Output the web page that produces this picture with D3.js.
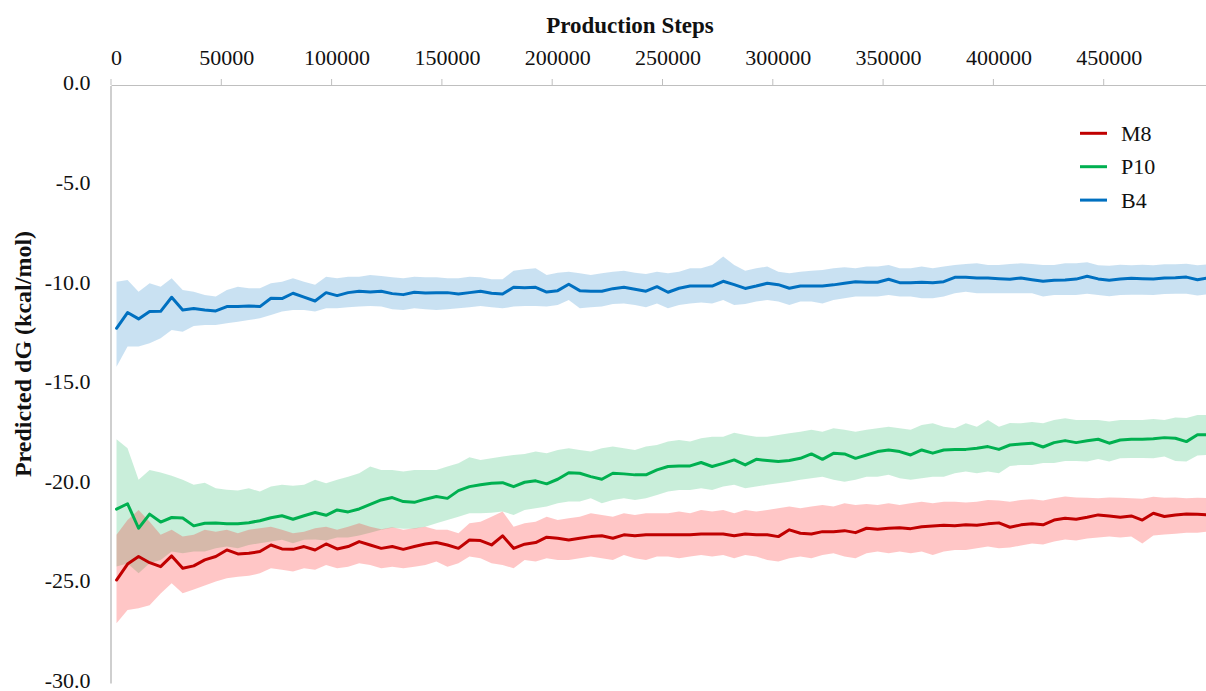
<!DOCTYPE html>
<html><head><meta charset="utf-8">
<script src="https://cdn.jsdelivr.net/npm/d3@7"></script>
<style>
html,body{margin:0;padding:0;background:#fff;}
svg{display:block;}
text{font-family:"Liberation Serif","Times New Roman",serif;}
</style></head><body>
<svg id="chart" width="1206" height="691"></svg>
<script>
// Category axis: production steps (every 5000)
const steps = [0,5000,10000,15000,20000,25000,30000,35000,40000,45000,
50000,55000,60000,65000,70000,75000,80000,85000,90000,95000,
100000,105000,110000,115000,120000,125000,130000,135000,140000,145000,
150000,155000,160000,165000,170000,175000,180000,185000,190000,195000,
200000,205000,210000,215000,220000,225000,230000,235000,240000,245000,
250000,255000,260000,265000,270000,275000,280000,285000,290000,295000,
300000,305000,310000,315000,320000,325000,330000,335000,340000,345000,
350000,355000,360000,365000,370000,375000,380000,385000,390000,395000,
400000,405000,410000,415000,420000,425000,430000,435000,440000,445000,
450000,455000,460000,465000,470000,475000,480000,485000,490000,495000];
const xTickLabels = [0,50000,100000,150000,200000,250000,300000,350000,400000,450000];
const yTickValues = [0,-5,-10,-15,-20,-25,-30];
const seriesNames = ["M8","P10","B4"];

const b4Mean = [-12.19,-11.40,-11.72,-11.35,-11.34,-10.63,-11.27,-11.20,-11.27,-11.32,
-11.10,-11.09,-11.07,-11.10,-10.68,-10.70,-10.43,-10.63,-10.82,-10.40,
-10.55,-10.40,-10.33,-10.37,-10.33,-10.45,-10.50,-10.38,-10.42,-10.40,
-10.40,-10.47,-10.40,-10.33,-10.43,-10.47,-10.13,-10.15,-10.13,-10.37,
-10.30,-9.98,-10.30,-10.33,-10.33,-10.20,-10.13,-10.23,-10.33,-10.10,
-10.38,-10.18,-10.07,-10.07,-10.07,-9.83,-10.00,-10.19,-10.07,-9.93,
-10.00,-10.18,-10.07,-10.07,-10.07,-10.01,-9.93,-9.85,-9.88,-9.88,
-9.73,-9.90,-9.90,-9.88,-9.90,-9.85,-9.63,-9.63,-9.66,-9.66,
-9.70,-9.73,-9.66,-9.75,-9.83,-9.78,-9.76,-9.72,-9.58,-9.71,
-9.78,-9.71,-9.68,-9.70,-9.71,-9.66,-9.65,-9.62,-9.75,-9.66];
const b4Upper = [-9.85,-9.76,-10.35,-9.93,-10.10,-9.68,-10.27,-10.35,-10.52,-10.60,
-10.27,-10.10,-10.18,-10.18,-9.93,-9.85,-9.68,-9.85,-10.01,-9.60,
-9.68,-9.60,-9.60,-9.51,-9.56,-9.63,-9.68,-9.60,-9.63,-9.63,
-9.68,-9.68,-9.60,-9.63,-9.73,-9.73,-9.30,-9.23,-9.18,-9.51,
-9.40,-9.35,-9.43,-9.51,-9.43,-9.35,-9.30,-9.40,-9.46,-9.35,
-9.43,-9.35,-9.18,-9.18,-9.01,-8.59,-9.01,-9.30,-9.18,-9.09,
-9.35,-9.43,-9.35,-9.30,-9.26,-9.18,-9.13,-9.18,-9.09,-9.09,
-9.01,-9.18,-9.18,-9.09,-9.18,-9.09,-9.01,-8.96,-8.93,-9.01,
-9.01,-8.96,-8.93,-8.96,-9.01,-9.01,-8.93,-8.93,-8.88,-9.02,
-9.05,-9.00,-9.02,-9.00,-9.03,-8.98,-8.97,-8.95,-9.02,-8.98];
const b4Lower = [-14.12,-13.11,-13.11,-12.94,-12.69,-12.27,-12.36,-12.07,-12.02,-12.02,
-11.94,-11.86,-11.77,-11.69,-11.52,-11.35,-11.27,-11.27,-11.35,-11.19,
-11.19,-11.14,-11.10,-11.07,-11.10,-11.24,-11.27,-11.19,-11.24,-11.27,
-11.24,-11.19,-11.14,-11.07,-11.14,-11.19,-11.10,-11.07,-11.07,-11.10,
-11.02,-10.77,-11.19,-11.14,-11.10,-10.97,-10.94,-11.02,-11.14,-10.94,
-11.19,-11.02,-10.94,-10.90,-10.94,-10.77,-11.02,-10.97,-10.85,-10.77,
-10.85,-11.02,-10.85,-10.85,-10.94,-10.77,-10.68,-10.60,-10.60,-10.60,
-10.52,-10.60,-10.60,-10.68,-10.68,-10.60,-10.43,-10.35,-10.43,-10.43,
-10.43,-10.43,-10.43,-10.43,-10.60,-10.52,-10.52,-10.52,-10.45,-10.52,
-10.58,-10.52,-10.50,-10.50,-10.52,-10.47,-10.46,-10.45,-10.55,-10.48];

const p10Mean = [-21.27,-21.00,-22.23,-21.52,-21.92,-21.69,-21.72,-22.11,-21.98,-21.97,
-22.00,-22.00,-21.95,-21.85,-21.70,-21.60,-21.78,-21.60,-21.44,-21.58,
-21.31,-21.41,-21.26,-21.03,-20.81,-20.69,-20.89,-20.93,-20.77,-20.64,
-20.73,-20.34,-20.14,-20.05,-19.97,-19.94,-20.14,-19.92,-19.85,-20.00,
-19.77,-19.44,-19.47,-19.64,-19.77,-19.47,-19.50,-19.55,-19.55,-19.30,
-19.13,-19.10,-19.10,-18.93,-19.13,-18.97,-18.80,-19.05,-18.77,-18.83,
-18.88,-18.83,-18.72,-18.50,-18.77,-18.47,-18.50,-18.72,-18.55,-18.38,
-18.30,-18.38,-18.55,-18.30,-18.46,-18.30,-18.27,-18.27,-18.21,-18.13,
-18.27,-18.05,-18.00,-17.96,-18.15,-17.93,-17.83,-17.93,-17.84,-17.76,
-17.96,-17.80,-17.76,-17.76,-17.74,-17.68,-17.71,-17.88,-17.54,-17.54];
const p10Upper = [-17.76,-18.21,-19.80,-19.30,-19.43,-19.60,-19.80,-20.05,-19.94,-20.22,
-20.30,-20.33,-20.22,-20.39,-20.14,-20.05,-20.10,-20.05,-19.80,-19.97,
-19.80,-19.64,-19.47,-19.13,-19.30,-19.30,-19.38,-19.30,-19.30,-19.30,
-19.13,-18.97,-18.67,-18.80,-18.72,-18.63,-18.55,-18.50,-18.38,-18.46,
-18.30,-18.21,-18.30,-18.38,-18.21,-18.13,-18.21,-18.30,-18.13,-18.05,
-17.88,-17.80,-17.88,-17.71,-17.63,-17.63,-17.43,-17.55,-17.63,-17.63,
-17.55,-17.46,-17.38,-17.29,-17.38,-17.21,-17.29,-17.38,-17.29,-17.21,
-17.13,-17.21,-17.29,-17.04,-16.96,-17.13,-17.21,-16.96,-17.13,-16.79,
-17.13,-16.95,-16.96,-16.90,-16.96,-16.79,-16.71,-16.80,-16.79,-16.80,
-16.87,-16.79,-16.79,-16.79,-16.74,-16.79,-16.67,-16.70,-16.54,-16.54];
const p10Lower = [-24.15,-24.00,-24.49,-23.99,-23.82,-23.40,-23.48,-23.40,-23.40,-23.23,
-23.15,-23.23,-23.07,-22.98,-22.90,-22.81,-22.98,-22.81,-22.80,-22.85,
-22.70,-22.70,-22.60,-22.45,-22.30,-22.20,-22.25,-22.25,-22.15,-21.98,
-21.81,-21.65,-21.48,-21.48,-21.45,-21.39,-21.56,-21.31,-21.23,-21.14,
-20.98,-20.89,-20.89,-20.72,-20.98,-20.81,-20.72,-20.81,-20.72,-20.56,
-20.39,-20.31,-20.31,-20.22,-20.31,-20.14,-20.05,-20.22,-20.14,-20.05,
-19.97,-19.89,-19.80,-19.72,-19.64,-19.80,-19.89,-19.80,-19.64,-19.64,
-19.55,-19.72,-19.80,-19.72,-19.64,-19.64,-19.47,-19.38,-19.47,-19.38,
-19.47,-19.10,-19.05,-19.05,-18.95,-18.95,-18.85,-18.85,-18.88,-18.75,
-18.88,-18.72,-18.70,-18.70,-18.72,-18.63,-18.85,-18.88,-18.58,-18.55];

const m8Mean = [-24.83,-24.03,-23.65,-23.96,-24.16,-23.62,-24.24,-24.12,-23.82,-23.65,
-23.32,-23.52,-23.49,-23.40,-23.07,-23.27,-23.29,-23.15,-23.32,-23.02,
-23.27,-23.15,-22.90,-23.07,-23.24,-23.15,-23.29,-23.15,-23.02,-22.95,
-23.07,-23.24,-22.82,-22.85,-23.07,-22.61,-23.24,-23.03,-22.95,-22.68,
-22.73,-22.82,-22.73,-22.65,-22.61,-22.73,-22.56,-22.61,-22.56,-22.56,
-22.56,-22.56,-22.56,-22.52,-22.52,-22.52,-22.61,-22.52,-22.56,-22.56,
-22.65,-22.31,-22.48,-22.52,-22.40,-22.40,-22.35,-22.45,-22.23,-22.28,
-22.23,-22.20,-22.25,-22.15,-22.12,-22.08,-22.10,-22.06,-22.08,-22.01,
-21.96,-22.18,-22.06,-22.00,-22.06,-21.82,-21.73,-21.78,-21.68,-21.56,
-21.61,-21.68,-21.61,-21.82,-21.48,-21.64,-21.56,-21.51,-21.53,-21.56];
const m8Upper = [-22.56,-21.81,-21.31,-21.90,-22.56,-22.31,-22.65,-22.56,-22.31,-22.40,
-22.31,-22.48,-22.31,-22.23,-22.15,-22.31,-22.48,-22.40,-22.23,-22.15,
-22.31,-22.15,-21.98,-22.15,-22.28,-22.18,-22.31,-22.23,-22.15,-22.31,
-22.31,-22.48,-21.98,-21.90,-21.65,-21.39,-22.15,-21.98,-21.90,-21.65,
-21.81,-21.73,-21.65,-21.48,-21.56,-21.65,-21.48,-21.56,-21.48,-21.48,
-21.48,-21.39,-21.48,-21.31,-21.39,-21.31,-21.48,-21.31,-21.39,-21.31,
-21.23,-21.14,-21.23,-21.14,-21.06,-21.14,-20.98,-21.06,-21.01,-21.06,
-20.98,-21.06,-20.98,-20.90,-20.98,-20.90,-20.90,-20.94,-20.90,-20.81,
-20.84,-20.90,-20.81,-20.78,-20.84,-20.73,-20.64,-20.68,-20.70,-20.72,
-20.68,-20.70,-20.72,-20.75,-20.65,-20.70,-20.68,-20.72,-20.70,-20.72];
const m8Lower = [-27.00,-26.33,-26.25,-26.10,-25.50,-24.99,-25.49,-25.30,-25.10,-24.90,
-24.74,-24.66,-24.62,-24.49,-24.24,-24.32,-24.40,-24.24,-24.32,-24.07,
-24.24,-24.16,-23.99,-24.07,-24.24,-24.16,-24.24,-24.16,-24.07,-23.90,
-24.16,-23.99,-23.65,-23.74,-23.99,-24.07,-24.24,-23.82,-23.90,-23.74,
-23.82,-23.82,-23.74,-23.65,-23.74,-23.82,-23.57,-23.74,-23.82,-23.65,
-23.65,-23.74,-23.65,-23.57,-23.65,-23.57,-23.74,-23.57,-23.65,-23.82,
-23.90,-23.74,-23.65,-23.74,-23.57,-23.48,-23.65,-23.74,-23.48,-23.40,
-23.48,-23.40,-23.48,-23.40,-23.57,-23.40,-23.32,-23.32,-23.23,-23.15,
-23.23,-23.20,-23.10,-23.00,-23.05,-22.90,-22.80,-22.85,-22.75,-22.70,
-22.65,-22.70,-22.65,-23.00,-22.60,-22.55,-22.50,-22.45,-22.45,-22.40];

// ---------- drawing ----------
const svg = d3.select("#chart");
const plot = {left:111, right:1214, top:85.5, bottom:683};

const x = d3.scaleBand().domain(steps).range([plot.left, plot.right]).padding(0);
const bw = x.bandwidth();
const cx = s => x(s) + bw/2;
const y = d3.scaleLinear().domain([-30, 0]).range([plot.bottom, plot.top]);

const series = [
  {name:seriesNames[0], mean:m8Mean,  lower:m8Lower,  upper:m8Upper,  line:"#C00000", band:"#FF1A1A", op:0.25},
  {name:seriesNames[1], mean:p10Mean, lower:p10Lower, upper:p10Upper, line:"#00B050", band:"#00B050", op:0.21},
  {name:seriesNames[2], mean:b4Mean,  lower:b4Lower,  upper:b4Upper,  line:"#0070C0", band:"#0070C0", op:0.21}
];
const rows = s => steps.map((st,i)=>({st, m:s.mean[i], lo:s.lower[i], hi:s.upper[i]}));

svg.append("defs").append("clipPath").attr("id","plotclip")
  .append("rect").attr("x",plot.left).attr("y",0).attr("width",plot.right-plot.left).attr("height",691);

const area = d3.area().x(d=>cx(d.st)).y0(d=>y(d.lo)).y1(d=>y(d.hi))
  .defined(d=>d.lo!=null && d.hi!=null);
const line = d3.line().x(d=>cx(d.st)).y(d=>y(d.m)).defined(d=>d.m!=null);

const gBands = svg.append("g").attr("clip-path","url(#plotclip)");
[series[2], series[1], series[0]].forEach(s=>{
  gBands.append("path").datum(rows(s)).attr("d",area)
    .attr("fill",s.band).attr("fill-opacity",s.op).attr("stroke","none");
});

// axes
const axisColor = "#BFBFBF";
const fontFam = '"Liberation Serif","Times New Roman",serif';
const xAxis = d3.axisTop(x).tickValues(xTickLabels).tickSize(6).tickSizeOuter(0).tickPadding(14.5)
  .tickFormat(d=>String(d));
const gx = svg.append("g").attr("transform",`translate(0,${plot.top-0.5})`).call(xAxis);
gx.select(".domain").attr("stroke",axisColor).attr("stroke-width",1.2);
gx.selectAll(".tick line").attr("stroke",axisColor).attr("x1",-bw/2).attr("x2",-bw/2);
gx.selectAll(".tick text").attr("font-size",22).attr("fill","#111").style("font-family",fontFam);

const yAxis = d3.axisLeft(y).tickValues(yTickValues).tickSize(0).tickSizeOuter(0).tickPadding(20)
  .tickFormat(d=>d.toFixed(1));
const gy = svg.append("g").attr("transform",`translate(${plot.left-0.5},0)`).call(yAxis);
gy.select(".domain").attr("stroke",axisColor).attr("stroke-width",1.5);
gy.selectAll(".tick text").attr("font-size",22).attr("fill","#111").attr("dy","0.2em")
  .style("font-family",fontFam);

// lines
const gLines = svg.append("g").attr("clip-path","url(#plotclip)");
[series[2], series[1], series[0]].forEach(s=>{
  gLines.append("path").datum(rows(s)).attr("d",line)
    .attr("fill","none").attr("stroke",s.line).attr("stroke-width",3)
    .attr("stroke-linejoin","round").attr("stroke-linecap","round");
});

// titles
svg.append("text").attr("x",630).attr("y",33).attr("text-anchor","middle")
  .attr("font-size",23).attr("font-weight","bold").attr("fill","#111").text("Production Steps");
svg.append("text").attr("transform","translate(23,354) rotate(-90)").attr("text-anchor","middle")
  .attr("dy","0.35em").attr("font-size",24).attr("font-weight","bold").attr("fill","#111")
  .text("Predicted dG (kcal/mol)");

// legend
const lg = svg.append("g");
series.forEach((s,i)=>{
  const ly = 133.3 + i*33.4;
  lg.append("line").attr("x1",1080).attr("x2",1107).attr("y1",ly).attr("y2",ly)
    .attr("stroke",s.line).attr("stroke-width",3);
  lg.append("text").attr("x",1121).attr("y",ly).attr("dy","0.35em")
    .attr("font-size",22).attr("fill","#111").text(s.name);
});
</script>
</body></html>
